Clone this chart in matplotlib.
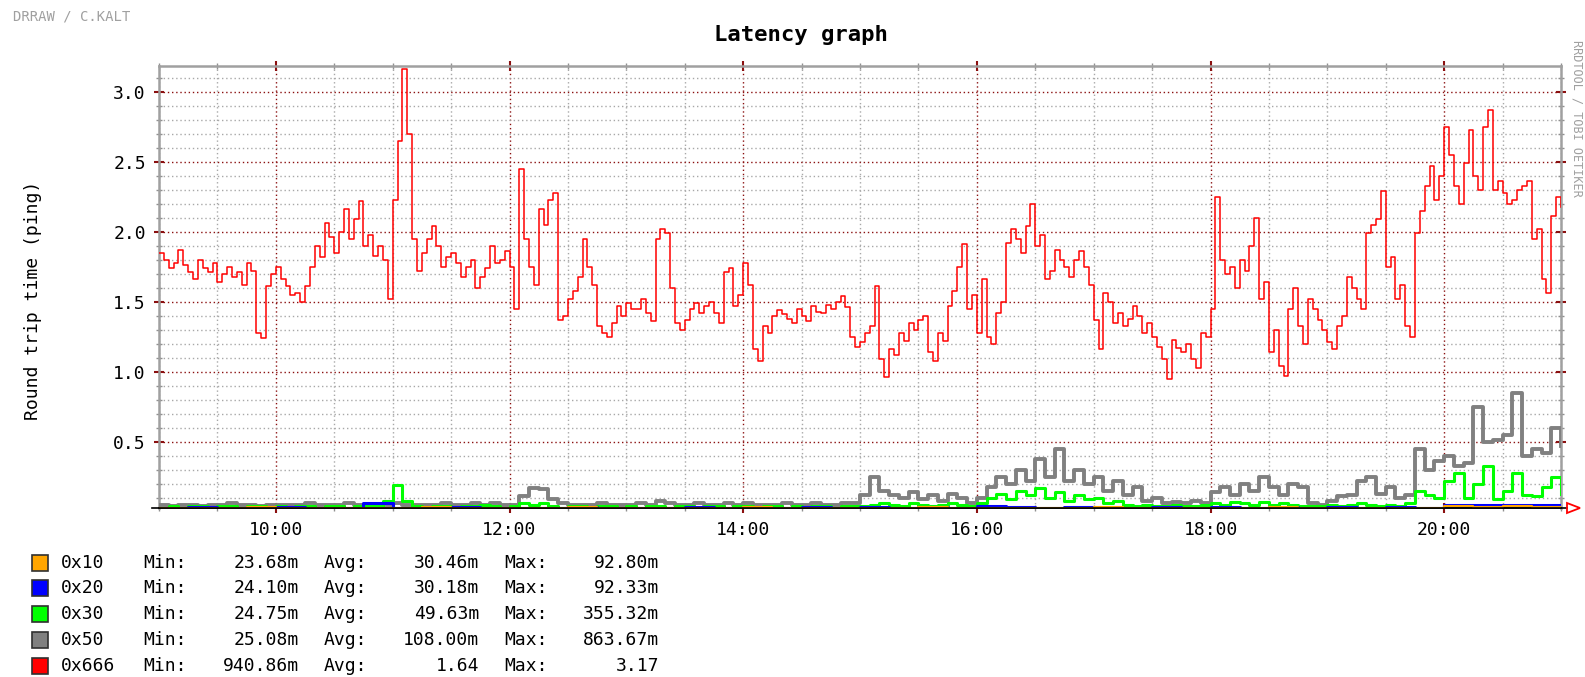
import matplotlib
matplotlib.use("Agg")
import matplotlib.pyplot as plt
import matplotlib.dates as mdates
from matplotlib.ticker import MultipleLocator, FormatStrFormatter
from matplotlib.patches import Rectangle, Polygon
import pandas as pd

plt.rcParams["font.family"] = ["DejaVu Sans Mono"]

# sample times 09:00 .. 21:00
t2 = pd.date_range("2004-06-01 09:00", periods=289, freq="150s")
t5 = pd.date_range("2004-06-01 09:00", periods=145, freq="5min")
t15 = pd.date_range("2004-06-01 09:00", periods=49, freq="15min")

# 0x666, 2.5 minute samples
red = [1.85, 1.80, 1.74, 1.78, 1.87, 1.76, 1.71, 1.66, 1.80, 1.74, 1.71, 1.78,
       1.64, 1.70, 1.75, 1.68, 1.71, 1.62, 1.78, 1.72, 1.28, 1.24, 1.61, 1.70,
       1.75, 1.66, 1.61, 1.55, 1.56, 1.50, 1.61, 1.75, 1.90, 1.82, 2.06, 1.96,
       1.85, 2.00, 2.16, 1.95, 2.09, 2.22, 1.90, 1.98, 1.83, 1.90, 1.80, 1.52,
       2.23, 2.65, 3.16, 2.70, 1.95, 1.72, 1.85, 1.95, 2.04, 1.90, 1.75, 1.82,
       1.85, 1.78, 1.68, 1.75, 1.80, 1.60, 1.68, 1.74, 1.90, 1.78, 1.80, 1.86,
       1.75, 1.45, 2.45, 1.95, 1.75, 1.62, 2.16, 2.05, 2.23, 2.28, 1.37, 1.40,
       1.52, 1.58, 1.68, 1.95, 1.75, 1.62, 1.33, 1.28, 1.25, 1.35, 1.47, 1.40,
       1.49, 1.45, 1.45, 1.52, 1.42, 1.36, 1.95, 2.02, 1.99, 1.60, 1.35, 1.30,
       1.37, 1.45, 1.49, 1.42, 1.47, 1.50, 1.42, 1.35, 1.71, 1.74, 1.47, 1.55,
       1.78, 1.62, 1.16, 1.08, 1.33, 1.28, 1.40, 1.44, 1.41, 1.38, 1.35, 1.45,
       1.40, 1.36, 1.47, 1.43, 1.42, 1.48, 1.45, 1.50, 1.54, 1.46, 1.25, 1.18,
       1.21, 1.28, 1.33, 1.61, 1.09, 0.96, 1.16, 1.12, 1.28, 1.22, 1.35, 1.30,
       1.37, 1.40, 1.14, 1.08, 1.28, 1.22, 1.47, 1.58, 1.75, 1.91, 1.45, 1.55,
       1.28, 1.66, 1.25, 1.20, 1.42, 1.50, 1.92, 2.02, 1.95, 1.85, 2.04, 2.20,
       1.90, 1.98, 1.66, 1.72, 1.87, 1.80, 1.75, 1.68, 1.80, 1.86, 1.75, 1.62,
       1.37, 1.16, 1.56, 1.50, 1.35, 1.42, 1.33, 1.38, 1.47, 1.40, 1.28, 1.35,
       1.25, 1.18, 1.09, 0.95, 1.23, 1.17, 1.14, 1.20, 1.09, 1.03, 1.28, 1.25,
       1.45, 2.25, 1.80, 1.70, 1.75, 1.60, 1.80, 1.72, 1.90, 2.10, 1.52, 1.64,
       1.14, 1.30, 1.04, 0.97, 1.45, 1.60, 1.33, 1.20, 1.52, 1.45, 1.37, 1.30,
       1.21, 1.16, 1.33, 1.40, 1.68, 1.60, 1.52, 1.45, 1.99, 2.05, 2.09, 2.29,
       1.75, 1.82, 1.52, 1.62, 1.33, 1.25, 1.99, 2.15, 2.33, 2.47, 2.23, 2.40,
       2.75, 2.55, 2.33, 2.20, 2.49, 2.73, 2.40, 2.30, 2.75, 2.87, 2.30, 2.36,
       2.28, 2.20, 2.23, 2.30, 2.33, 2.36, 1.95, 2.02, 1.66, 1.56, 2.11, 2.25,
       2.18]

# 0x50, 5 minute samples
gray = [0.05, 0.04, 0.05, 0.05, 0.04, 0.05, 0.05, 0.06, 0.05, 0.05, 0.04, 0.05,
        0.05, 0.05, 0.05, 0.06, 0.05, 0.05, 0.05, 0.06, 0.05, 0.05, 0.05, 0.05,
        0.06, 0.05, 0.05, 0.05, 0.05, 0.06, 0.05, 0.05, 0.06, 0.05, 0.06, 0.05,
        0.05, 0.11, 0.17, 0.16, 0.09, 0.06, 0.05, 0.05, 0.05, 0.06, 0.05, 0.05,
        0.05, 0.06, 0.05, 0.08, 0.06, 0.05, 0.05, 0.06, 0.05, 0.05, 0.06, 0.05,
        0.06, 0.05, 0.05, 0.05, 0.06, 0.05, 0.05, 0.06, 0.05, 0.05, 0.06, 0.06,
        0.12, 0.25, 0.15, 0.12, 0.10, 0.14, 0.09, 0.12, 0.08, 0.13, 0.10, 0.06,
        0.10, 0.18, 0.25, 0.20, 0.30, 0.22, 0.38, 0.25, 0.45, 0.22, 0.30, 0.20,
        0.25, 0.15, 0.22, 0.12, 0.18, 0.08, 0.10, 0.06, 0.07, 0.06, 0.08, 0.06,
        0.14, 0.18, 0.12, 0.20, 0.15, 0.25, 0.18, 0.12, 0.20, 0.18, 0.06, 0.05,
        0.08, 0.11, 0.12, 0.22, 0.25, 0.13, 0.18, 0.10, 0.12, 0.45, 0.30, 0.36,
        0.40, 0.33, 0.35, 0.75, 0.50, 0.51, 0.55, 0.85, 0.40, 0.45, 0.42, 0.60,
        0.47]

# 0x30, 5 minute samples
green = [0.03, 0.04, 0.03, 0.04, 0.04, 0.03, 0.04, 0.04, 0.03, 0.04, 0.04, 0.03,
         0.04, 0.03, 0.04, 0.04, 0.03, 0.04, 0.04, 0.03, 0.04, 0.04, 0.04, 0.08,
         0.19, 0.08, 0.04, 0.03, 0.04, 0.04, 0.03, 0.04, 0.04, 0.05, 0.04, 0.03,
         0.04, 0.06, 0.05, 0.06, 0.04, 0.03, 0.04, 0.04, 0.03, 0.04, 0.04, 0.03,
         0.04, 0.03, 0.04, 0.04, 0.03, 0.04, 0.04, 0.03, 0.04, 0.04, 0.03, 0.04,
         0.04, 0.03, 0.04, 0.04, 0.03, 0.04, 0.03, 0.04, 0.04, 0.03, 0.04, 0.04,
         0.04, 0.05, 0.06, 0.05, 0.04, 0.06, 0.05, 0.04, 0.05, 0.06, 0.05, 0.04,
         0.06, 0.10, 0.13, 0.09, 0.15, 0.12, 0.17, 0.10, 0.14, 0.08, 0.12, 0.09,
         0.10, 0.06, 0.08, 0.05, 0.04, 0.05, 0.04, 0.04, 0.05, 0.04, 0.04, 0.05,
         0.06, 0.05, 0.07, 0.06, 0.05, 0.07, 0.05, 0.06, 0.05, 0.04, 0.04, 0.04,
         0.05, 0.04, 0.05, 0.06, 0.05, 0.04, 0.05, 0.04, 0.06, 0.15, 0.12, 0.10,
         0.22, 0.28, 0.10, 0.20, 0.33, 0.09, 0.15, 0.28, 0.12, 0.11, 0.18, 0.25,
         0.13]

# 0x20 and 0x10, 15 minute samples
blue = [0.030, 0.035, 0.030, 0.030, 0.035, 0.030, 0.030, 0.060, 0.030, 0.030, 0.035, 0.030,
        0.030, 0.030, 0.035, 0.030, 0.030, 0.030, 0.035, 0.030, 0.030, 0.030, 0.035, 0.030,
        0.035, 0.030, 0.035, 0.030, 0.040, 0.035, 0.030, 0.035, 0.030, 0.030, 0.035, 0.030,
        0.035, 0.030, 0.035, 0.030, 0.035, 0.030, 0.035, 0.030, 0.045, 0.050, 0.045, 0.050,
        0.045]

orange = [0.028, 0.030, 0.028, 0.032, 0.028, 0.030, 0.028, 0.030, 0.028, 0.032, 0.028, 0.030,
          0.028, 0.030, 0.032, 0.028, 0.030, 0.028, 0.030, 0.028, 0.032, 0.028, 0.030, 0.028,
          0.030, 0.028, 0.032, 0.028, 0.030, 0.028, 0.030, 0.028, 0.032, 0.028, 0.030, 0.028,
          0.030, 0.028, 0.032, 0.028, 0.030, 0.028, 0.030, 0.028, 0.040, 0.035, 0.040, 0.035,
          0.035]

names = ["0x10", "0x20", "0x30", "0x50", "0x666"]
colors = ["#ffa500", "#0000ff", "#00ff00", "#808080", "#ff0000"]
mins = ["23.68m", "24.10m", "24.75m", "25.08m", "940.86m"]
avgs = ["30.46m", "30.18m", "49.63m", "108.00m", "1.64"]
maxs = ["92.80m", "92.33m", "355.32m", "863.67m", "3.17"]

W, H = 1585, 677
MGRID = "#8b1010"
GRID = "#a8a8a8"

fig = plt.figure(figsize=(W / 100, H / 100), dpi=100)
L, R, T, B = 159, 1561, 66, 508
ax = fig.add_axes([L / W, 1 - B / H, (R - L) / W, (B - T) / H])

step = dict(drawstyle="steps-post")
ax.plot(t5, gray, color=colors[3], lw=2.8, zorder=3, **step)
ax.plot(t5, green, color=colors[2], lw=2.2, zorder=4, **step)
ax.plot(t15, blue, color=colors[1], lw=2.2, zorder=5, **step)
ax.plot(t15, orange, color=colors[0], lw=1.5, zorder=5, **step)
ax.plot(t2, red, color=colors[4], lw=1.1, zorder=6, **step)

ax.set_xlim(t5[0], t5[-1])
ax.set_ylim(0.027, 3.185)

ax.yaxis.set_major_locator(MultipleLocator(0.5))
ax.yaxis.set_minor_locator(MultipleLocator(0.1))
ax.yaxis.set_major_formatter(FormatStrFormatter("%.1f"))
ax.xaxis.set_major_locator(mdates.HourLocator(byhour=range(0, 24, 2)))
ax.xaxis.set_minor_locator(mdates.MinuteLocator(byminute=[0, 30]))
ax.xaxis.set_major_formatter(mdates.DateFormatter("%H:%M"))

ax.set_axisbelow(True)
ax.grid(which="minor", color=GRID, ls=(0, (1, 2)), lw=1.0)
ax.grid(which="major", color=MGRID, ls=(0, (1, 2)), lw=1.0)

ax.tick_params(which="both", top=True, right=True, labelsize=13, colors="#000000")
ax.tick_params(which="minor", direction="inout", length=4, color="#909090", width=1)
ax.tick_params(which="major", direction="inout", length=7, color=MGRID, width=1.5)
ax.tick_params(axis="y", which="major", pad=6)
ax.tick_params(axis="x", which="major", pad=6)

for s in ("left", "top", "right"):
    ax.spines[s].set_color("#a0a0a0")
    ax.spines[s].set_linewidth(1.8)
ax.spines["bottom"].set_color("#000000")
ax.spines["bottom"].set_linewidth(1.2)

# x axis stubs + arrow
fig.add_artist(plt.Line2D([152 / W, 1567 / W], [1 - B / H] * 2, color="black", lw=1.2, zorder=1))
fig.add_artist(Polygon([[1567 / W, 1 - 503 / H], [1580 / W, 1 - B / H], [1567 / W, 1 - 513 / H]],
                       closed=True, fill=False, edgecolor="red", lw=1.3))

fig.text(801 / W, 1 - 35 / H, "Latency graph", ha="center", va="center", fontsize=16, fontweight="bold")
fig.text(13 / W, 1 - 17 / H, "DRRAW / C.KALT", ha="left", va="center", fontsize=10, color="#a0a0a0")
fig.text(1577 / W, 1 - 40 / H, "RRDTOOL / TOBI OETIKER", ha="center", va="top", rotation=270,
         fontsize=8.5, color="#a0a0a0")
fig.text(33 / W, 1 - 300 / H, "Round trip time (ping)", ha="center", va="center", rotation=90, fontsize=13)

# legend
rows = [563, 588, 614, 640, 666]
for i, y in enumerate(rows):
    yf = 1 - y / H
    fig.add_artist(Rectangle((32 / W, 1 - (y + 8) / H), 16 / W, 16 / H, facecolor=colors[i],
                             edgecolor="#303030", lw=1.2))
    fig.text(61 / W, yf, names[i], ha="left", va="center", fontsize=13)
    fig.text(143 / W, yf, "Min:", ha="left", va="center", fontsize=13)
    fig.text(299 / W, yf, mins[i], ha="right", va="center", fontsize=13)
    fig.text(324 / W, yf, "Avg:", ha="left", va="center", fontsize=13)
    fig.text(479 / W, yf, avgs[i], ha="right", va="center", fontsize=13)
    fig.text(504 / W, yf, "Max:", ha="left", va="center", fontsize=13)
    fig.text(659 / W, yf, maxs[i], ha="right", va="center", fontsize=13)

fig.savefig("out.png", dpi=100, facecolor="white")
